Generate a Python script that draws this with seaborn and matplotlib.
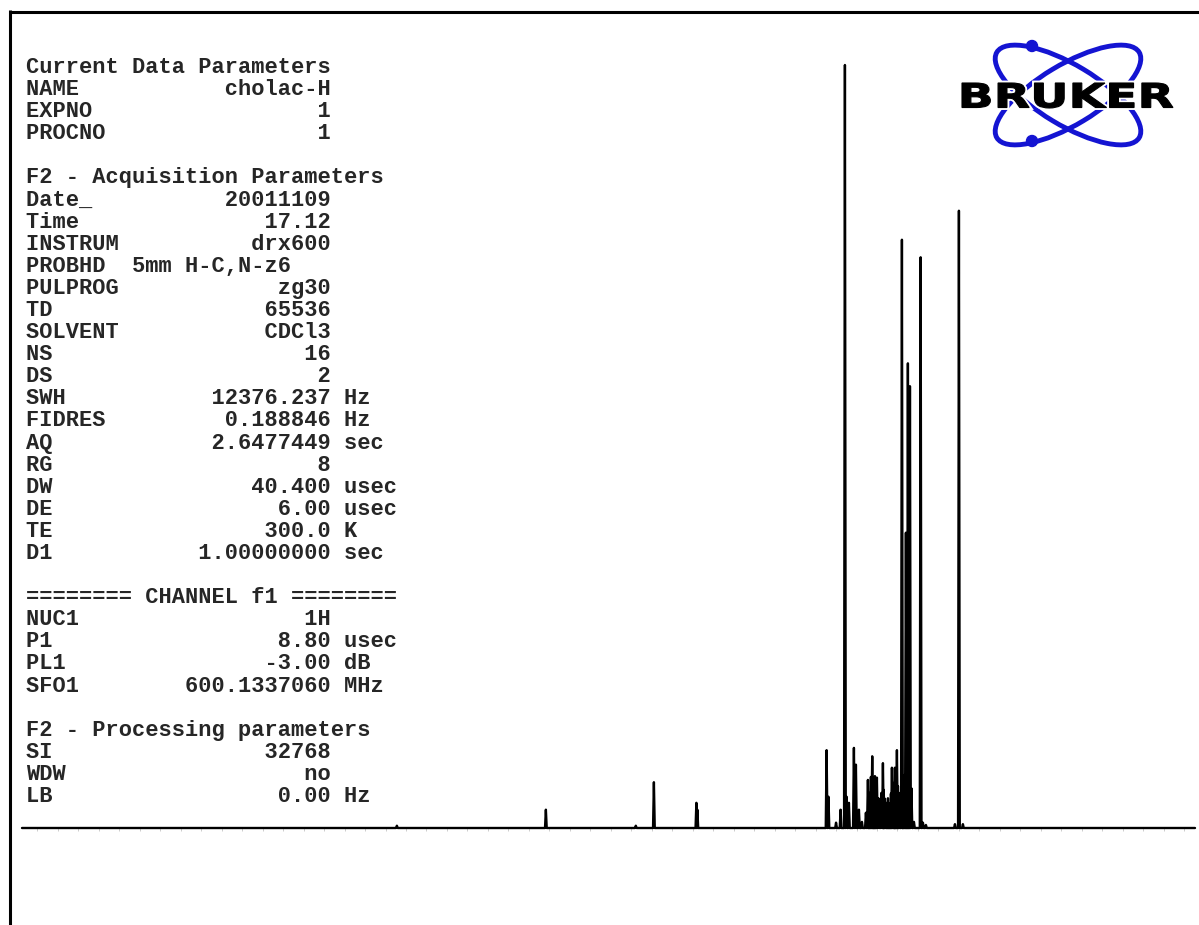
import pandas as pd
import seaborn as sns
import matplotlib.pyplot as plt
import matplotlib.patheffects as pe
from matplotlib.lines import Line2D
from matplotlib.patches import Ellipse, Circle, PathPatch
from matplotlib.textpath import TextPath
from matplotlib.font_manager import FontProperties
from matplotlib.transforms import Affine2D
from matplotlib.ticker import MultipleLocator

# 1H spectrum, peak list (ppm, height with tallest = 100)
peak_ppm = [9.88, 7.261, 5.68, 5.362, 4.615, 4.598,
            2.326, 2.294, 2.16, 2.080, 2.004, 1.975, 1.934, 1.846, 1.811, 1.758,
            1.705, 1.635, 1.600, 1.582, 1.565, 1.547, 1.524, 1.508, 1.494, 1.477,
            1.460, 1.442, 1.415, 1.389, 1.363, 1.336, 1.322, 1.310, 1.283, 1.265,
            1.248, 1.230, 1.213, 1.195, 1.178, 1.152, 1.138, 1.125, 1.108, 1.090,
            1.072, 1.055, 1.002, 0.985, 0.972, 0.950, 0.932, 0.914, 0.897, 0.879,
            0.861, 0.835, 0.791, 0.673, 0.633, 0.58, 0.070, 0.0, -0.070]
peak_height = [0.3, 2.4, 0.3, 6.0, 3.3, 2.4,
               10.2, 4.1, 0.7, 2.4, 100.0, 4.1, 3.3, 10.5, 8.3, 2.4,
               0.8, 2.0, 6.3, 3.5, 4.6, 6.7, 9.4, 4.0, 5.2, 6.8,
               4.5, 6.6, 3.9, 2.8, 4.6, 8.5, 5.0, 3.9, 3.3, 3.0,
               3.9, 3.2, 2.6, 4.5, 7.9, 5.9, 5.0, 7.9, 6.0, 10.2,
               5.5, 4.6, 77.1, 5.0, 6.6, 7.0, 38.7, 26.0, 60.9, 39.0,
               57.9, 5.2, 0.8, 74.8, 0.7, 0.4, 0.5, 80.9, 0.5]
ppm_left, ppm_right = 16.47, -4.15

# acquisition / processing parameter listing
param_keys = ["Current Data Parameters", "NAME", "EXPNO", "PROCNO", "",
              "F2 - Acquisition Parameters", "Date_", "Time", "INSTRUM", "PROBHD",
              "PULPROG", "TD", "SOLVENT", "NS", "DS", "SWH", "FIDRES", "AQ", "RG",
              "DW", "DE", "TE", "D1", "", "======== CHANNEL f1 ========",
              "NUC1", "P1", "PL1", "SFO1", "", "F2 - Processing parameters",
              "SI", "WDW", "LB"]
param_values = [None, "cholac-H", "1", "1", None,
                None, "20011109", "17.12", "drx600", "5mm H-C,N-z6   ",
                "zg30", "65536", "CDCl3", "16", "2", "12376.237", "0.188846", "2.6477449", "8",
                "40.400", "6.00", "300.0", "1.00000000", None, None,
                "1H", "8.80", "-3.00", "600.1337060", None, None,
                "32768", "no", "0.00"]
param_units = ["", "", "", "", "",
               "", "", "", "", "",
               "", "", "", "", "", "Hz", "Hz", "sec", "",
               "usec", "usec", "K", "sec", "", "",
               "", "usec", "dB", "MHz", "", "",
               "", "", "Hz"]

# build the trace: each line is a narrow spike on a flat baseline
half_w = 0.015
xs, ys = [ppm_left], [0.0]
for p, h in sorted(zip(peak_ppm, peak_height), reverse=True):
    xs += [p + half_w, p, p - half_w]
    ys += [0.0, h, 0.0]
xs.append(ppm_right)
ys.append(0.0)
spec = pd.DataFrame({"ppm": xs, "intensity": ys})

sns.set_theme(style="white")
plt.rcParams["font.family"] = ["Liberation Mono", "DejaVu Sans Mono"]

W, H = 1199, 925
fig = plt.figure(figsize=(W / 100, H / 100), dpi=100)
fig.patch.set_facecolor("white")

# spectrum
ax = fig.add_axes([22 / W, (H - 828) / H, 1173 / W, 763 / H])
sns.lineplot(data=spec, x="ppm", y="intensity", sort=False, estimator=None,
             color="black", lw=1.7, ax=ax, clip_on=False)
ax.set_xlim(ppm_left, ppm_right)
ax.set_ylim(0, 100)
for s in ax.spines.values():
    s.set_visible(False)
ax.set_xlabel("")
ax.set_ylabel("")
ax.set_yticks([])
ax.xaxis.set_major_locator(MultipleLocator(0.36))
ax.tick_params(axis="x", bottom=True, length=2.5, width=0.6, color="#c4c4c4",
               labelbottom=False, direction="out")
ax.patch.set_alpha(0)

# parameter text block
for i, (k, v, u) in enumerate(zip(param_keys, param_values, param_units)):
    if v is None:
        line = k
    else:
        line = f"{k:<8}{v:>15}" + (f" {u}" if u else "")
    fig.text(26 / W, 1 - (73 + i * 22.09) / H, line, fontsize=15.85,
             fontweight="bold", va="baseline", ha="left",
             family=["Liberation Mono", "DejaVu Sans Mono"])

# page frame (top and left)
fig.add_artist(Line2D([8.5 / W, 1], [1 - 11.5 / H] * 2, color="black", lw=2.2,
                      solid_capstyle="butt"))
fig.add_artist(Line2D([10 / W] * 2, [0, 1 - 10 / H], color="black", lw=2.2,
                      solid_capstyle="butt"))

# logo
lax = fig.add_axes([940 / W, (H - 160) / H, 259 / W, 130 / H])
lax.set_xlim(940, 1199)
lax.set_ylim(160, 30)
lax.axis("off")
blue = "#1414d2"
for ang in (31, -31):
    lax.add_patch(Ellipse((1068, 95), 166, 60, angle=ang, fill=False,
                          ec=blue, lw=3.5))
for cy in (46, 141):
    lax.add_patch(Circle((1032, cy), 5.5, color=blue))
tp = TextPath((0, 0), "BRUKER", size=1,
              prop=FontProperties(family="DejaVu Sans", weight="bold"))
ext = tp.get_extents()
tr = (Affine2D().translate(-ext.x0, -ext.y0)
      .scale(211 / ext.width, -25 / ext.height).translate(962, 108))
lax.add_patch(PathPatch(tr.transform_path(tp), fc="black", ec="black", lw=0.8,
                        path_effects=[pe.withStroke(linewidth=3.5, foreground="white")]))

fig.savefig("out.png", dpi=100)
